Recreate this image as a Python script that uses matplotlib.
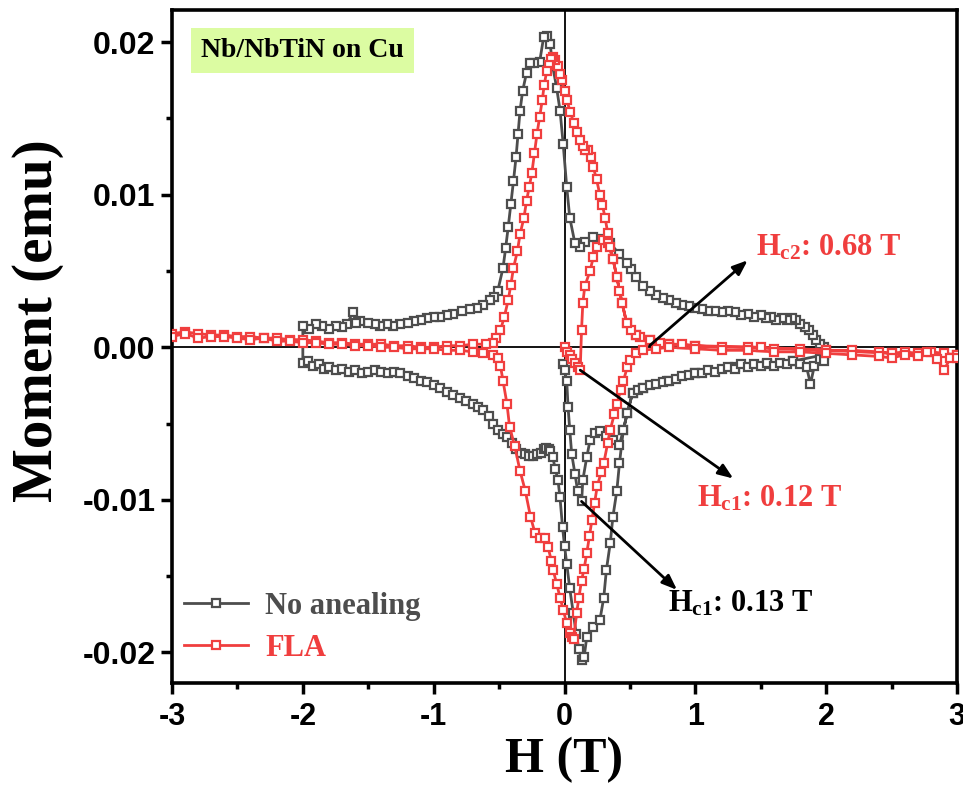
import numpy as np
import matplotlib
matplotlib.use("Agg")
import matplotlib.pyplot as plt
from matplotlib.ticker import MultipleLocator

# ---------------- data ----------------
# No anealing: virgin curve (0 -> +2 T)
na_virgin_H = [-0.01, 0.0, 0.017, 0.027, 0.04, 0.055, 0.08, 0.10, 0.13, 0.14, 0.17, 0.195,
               0.23, 0.27, 0.32, 0.37, 0.42, 0.45, 0.48, 0.52, 0.6, 0.78, 1.0, 1.3, 1.55, 1.75, 1.98]
na_virgin_M = [-0.0011, -0.0015, -0.0022, -0.0039, -0.0054, -0.0070, -0.0083, -0.0094, -0.0101,
               -0.0087, -0.0072, -0.0061, -0.0056, -0.0055, -0.0058, -0.0061, -0.0064, -0.0054,
               -0.0043, -0.0030, -0.0027, -0.0022, -0.0017, -0.0013, -0.0011, -0.0009, -0.0005]
# No anealing: decreasing branch (+2 -> -2 T)
na_down_H = [1.98, 1.95, 1.92, 1.90, 1.87, 1.84, 1.80, 1.77, 1.74, 1.70, 1.66, 1.62, 1.58, 1.54,
             1.50, 1.45, 1.40, 1.35, 1.30, 1.25, 1.20, 1.15, 1.10, 1.05, 1.00, 0.95, 0.90, 0.85,
             0.80, 0.75, 0.70, 0.65, 0.60, 0.55, 0.51, 0.475, 0.42, 0.35, 0.28, 0.22, 0.16, 0.12,
             0.08, 0.04, 0.017, -0.01, -0.034, -0.06, -0.09, -0.11, -0.136, -0.16, -0.19, -0.23,
             -0.26, -0.29, -0.32, -0.34, -0.355, -0.37, -0.39, -0.41, -0.43, -0.45, -0.47, -0.51,
             -0.54, -0.57, -0.62, -0.67, -0.72, -0.78, -0.85, -0.90, -0.95, -1.00, -1.05, -1.10,
             -1.15, -1.20, -1.26, -1.31, -1.36, -1.41, -1.45, -1.50, -1.56, -1.59, -1.62, -1.66,
             -1.70, -1.75, -1.80, -1.85, -1.90, -1.95, -2.0]
na_down_M = [0.0000, 0.0002, 0.0005, 0.0008, 0.0011, 0.0013, 0.0015, 0.0018, 0.0019, 0.0018,
             0.0019, 0.0018, 0.0020, 0.0019, 0.0021, 0.0020, 0.0022, 0.0021, 0.0023, 0.0024,
             0.0023, 0.0024, 0.0024, 0.0025, 0.0026, 0.0027, 0.0028, 0.0029, 0.0031, 0.0032,
             0.0034, 0.0037, 0.0040, 0.0046, 0.0051, 0.0055, 0.0061, 0.0068, 0.0071, 0.0072,
             0.0069, 0.0066, 0.0068, 0.0085, 0.0105, 0.0133, 0.0155, 0.0170, 0.0184, 0.0199,
             0.0204, 0.0203, 0.0187, 0.0186, 0.0186, 0.0180, 0.0168, 0.0155, 0.0140, 0.0125,
             0.0109, 0.0094, 0.0079, 0.0065, 0.0052, 0.0037, 0.0033, 0.0031, 0.0028, 0.0026,
             0.0025, 0.0024, 0.0022, 0.0021, 0.0020, 0.0020, 0.0019, 0.0018, 0.0017, 0.0016,
             0.0015, 0.0014, 0.0015, 0.0014, 0.0015, 0.0016, 0.0017, 0.0016, 0.0023, 0.0015,
             0.0013, 0.0014, 0.0012, 0.0014, 0.0015, 0.0012, 0.0014]
# No anealing: increasing branch (-2 -> +2 T)
na_up_H = [-2.0, -1.96, -1.92, -1.88, -1.84, -1.80, -1.75, -1.70, -1.65, -1.60, -1.55, -1.50,
           -1.45, -1.40, -1.35, -1.30, -1.26, -1.20, -1.15, -1.10, -1.05, -1.00, -0.95, -0.90,
           -0.85, -0.80, -0.75, -0.70, -0.66, -0.62, -0.58, -0.55, -0.51, -0.47, -0.44, -0.40,
           -0.37, -0.33, -0.30, -0.27, -0.24, -0.21, -0.18, -0.16, -0.14, -0.12, -0.11, -0.09,
           -0.07, -0.05, -0.035, -0.015, 0.0, 0.017, 0.04, 0.067, 0.09, 0.11, 0.13, 0.15, 0.17,
           0.22, 0.27, 0.30, 0.32, 0.35, 0.37, 0.40, 0.42, 0.45, 0.48, 0.52, 0.56, 0.6, 0.65,
           0.7, 0.75, 0.8, 0.85, 0.9, 0.95, 1.0, 1.05, 1.1, 1.15, 1.2, 1.25, 1.3, 1.35, 1.4,
           1.45, 1.5, 1.55, 1.6, 1.65, 1.7, 1.75, 1.8, 1.85, 1.88, 1.91, 1.95, 1.98]
na_up_M = [-0.0010, -0.0009, -0.0012, -0.0011, -0.0014, -0.0013, -0.0015, -0.0014, -0.0016,
           -0.0015, -0.0017, -0.0016, -0.0015, -0.0016, -0.0017, -0.0016, -0.0017, -0.0019,
           -0.0020, -0.0022, -0.0023, -0.0025, -0.0027, -0.0029, -0.0031, -0.0033, -0.0035,
           -0.0037, -0.0039, -0.0041, -0.0045, -0.0050, -0.0054, -0.0057, -0.0059, -0.0063,
           -0.0067, -0.0069, -0.0070, -0.0071, -0.0071, -0.0070, -0.0069, -0.0067, -0.0066,
           -0.0067, -0.0068, -0.0072, -0.0080, -0.0087, -0.0098, -0.0118, -0.0130, -0.0142,
           -0.0158, -0.0174, -0.0188, -0.0198, -0.0205, -0.0203, -0.0190, -0.0183, -0.0179,
           -0.0164, -0.0146, -0.0128, -0.0111, -0.0094, -0.0076, -0.0054, -0.0043, -0.0030,
           -0.0028, -0.0027, -0.0025, -0.0024, -0.0023, -0.0022, -0.0021, -0.0019, -0.0018,
           -0.0017, -0.0017, -0.0015, -0.0016, -0.0014, -0.0013, -0.0014, -0.0011, -0.0013,
           -0.0011, -0.0012, -0.0010, -0.0012, -0.0010, -0.0011, -0.0009, -0.0011, -0.0013,
           -0.0024, -0.0012, -0.0008, -0.0009]

# FLA: virgin curve (0 -> +3 T)
fla_virgin_H = [0.0, 0.02, 0.04, 0.06, 0.08, 0.10, 0.12, 0.13, 0.14, 0.155, 0.195, 0.22, 0.246,
                0.295, 0.33, 0.37, 0.40, 0.44, 0.475, 0.55, 0.65, 0.8, 1.0, 1.5, 2.0, 2.5, 3.0]
fla_virgin_M = [0.0000, -0.0003, -0.0005, -0.0008, -0.0010, -0.0013, -0.0015, 0.0011, 0.0029,
                0.0040, 0.0050, 0.0059, 0.0066, 0.0070, 0.0068, 0.0058, 0.0046, 0.0029, 0.0016,
                0.0008, 0.0005, 0.0002, 0.0001, 0.0000, -0.0002, -0.0004, -0.0005]
# FLA: decreasing branch (+3 -> -3 T)
fla_down_H = [3.0, 2.9, 2.8, 2.7, 2.6, 2.5, 2.4, 2.2, 2.0, 1.8, 1.6, 1.4, 1.2, 1.0, 0.9, 0.8,
              0.73, 0.65, 0.58, 0.55, 0.51, 0.475, 0.44, 0.42, 0.40, 0.37, 0.35, 0.33, 0.31,
              0.29, 0.27, 0.245, 0.22, 0.20, 0.18, 0.16, 0.14, 0.12, 0.093, 0.07, 0.045, 0.017,
              0.0, -0.02, -0.034, -0.05, -0.07, -0.087, -0.10, -0.12, -0.136, -0.155, -0.17,
              -0.19, -0.21, -0.23, -0.25, -0.27, -0.29, -0.31, -0.34, -0.36, -0.39, -0.41, -0.43,
              -0.46, -0.49, -0.52, -0.55, -0.6, -0.7, -0.8, -0.9, -1.0, -1.1, -1.2, -1.3, -1.4,
              -1.5, -1.6, -1.7, -1.8, -1.9, -2.0, -2.1, -2.2, -2.3, -2.4, -2.5, -2.6, -2.7, -2.8,
              -2.9, -3.0]
fla_down_M = [-0.0005, -0.0004, -0.0003, -0.0004, -0.0003, -0.0004, -0.0003, -0.0002, -0.0002,
              -0.0001, -0.0001, 0.0000, 0.0000, 0.0001, 0.0002, 0.0002, 0.0003, 0.0005, 0.0007,
              0.0008, 0.0011, 0.0016, 0.0029, 0.0037, 0.0046, 0.0058, 0.0066, 0.0075, 0.0085,
              0.0093, 0.0100, 0.0110, 0.0118, 0.0125, 0.0129, 0.0129, 0.0132, 0.0136, 0.0141,
              0.0147, 0.0154, 0.0162, 0.0168, 0.0175, 0.0179, 0.0184, 0.0188, 0.0190, 0.0189,
              0.0185, 0.0181, 0.0172, 0.0162, 0.0151, 0.0140, 0.0127, 0.0114, 0.0105, 0.0096,
              0.0085, 0.0074, 0.0063, 0.0052, 0.0041, 0.0031, 0.0020, 0.0011, 0.0006, 0.0003,
              0.0002, 0.0002, 0.0001, 0.0001, 0.0000, 0.0000, 0.0001, 0.0001, 0.0002, 0.0002,
              0.0002, 0.0003, 0.0003, 0.0004, 0.0005, 0.0005, 0.0006, 0.0006, 0.0007, 0.0007,
              0.0008, 0.0008, 0.0009, 0.0010, 0.0009]
# FLA: increasing branch (-3 -> +3 T)
fla_up_H = [-3.0, -2.9, -2.8, -2.7, -2.6, -2.5, -2.4, -2.3, -2.2, -2.1, -2.0, -1.9, -1.8, -1.7,
            -1.6, -1.5, -1.4, -1.3, -1.2, -1.1, -1.0, -0.9, -0.8, -0.7, -0.62, -0.55, -0.51,
            -0.49, -0.47, -0.44, -0.42, -0.38, -0.34, -0.30, -0.26, -0.225, -0.19, -0.15, -0.126,
            -0.10, -0.087, -0.06, -0.034, -0.01, 0.017, 0.04, 0.055, 0.07, 0.093, 0.11, 0.13,
            0.15, 0.17, 0.19, 0.21, 0.23, 0.25, 0.28, 0.30, 0.33, 0.35, 0.38, 0.40, 0.43, 0.45,
            0.48, 0.50, 0.55, 0.6, 0.7, 0.8, 1.0, 1.2, 1.4, 1.6, 1.8, 2.0, 2.2, 2.4, 2.5, 2.6,
            2.7, 2.77, 2.85, 2.9, 2.95, 3.0]
fla_up_M = [0.0007, 0.0009, 0.0006, 0.0007, 0.0007, 0.0006, 0.0005, 0.0006, 0.0004, 0.0004,
            0.0003, 0.0003, 0.0002, 0.0002, 0.0001, 0.0001, 0.0000, 0.0000, -0.0001, -0.0001,
            -0.0001, -0.0002, -0.0002, -0.0003, -0.0004, -0.0005, -0.0007, -0.0012, -0.0022,
            -0.0037, -0.0052, -0.0065, -0.0081, -0.0094, -0.0111, -0.0122, -0.0125, -0.0125,
            -0.0131, -0.0140, -0.0146, -0.0155, -0.0164, -0.0172, -0.0181, -0.0187, -0.0190,
            -0.0191, -0.0174, -0.0164, -0.0153, -0.0145, -0.0135, -0.0124, -0.0113, -0.0102,
            -0.0091, -0.0082, -0.0076, -0.0063, -0.0054, -0.0044, -0.0037, -0.0028, -0.0022,
            -0.0013, -0.00085, -0.0004, -0.0002, -0.0001, 0.0000, -0.0001, -0.0002, -0.0002,
            -0.0003, -0.0003, -0.0004, -0.0005, -0.0006, -0.0007, -0.0005, -0.0006, -0.0003,
            -0.0008, -0.0015, -0.0007, -0.0007]

series_labels = ["No anealing", "FLA"]
series_colors = ["#4d4d4d", "#f03e3e"]
x_ticks = [-3, -2, -1, 0, 1, 2, 3]
y_ticks = [-0.02, -0.01, 0.00, 0.01, 0.02]

# annotations: (text, colour, arrow start (H, M), arrow end (H, M), text position (H, M))
annotations = [
    (r"$\mathbf{H_{c2}}$: 0.68 T", "#f03e3e", (0.65, 0.0001), (1.40, 0.0057), (1.46, 0.0065)),
    (r"$\mathbf{H_{c1}}$: 0.12 T", "#f03e3e", (0.12, -0.0015), (1.29, -0.0086), (1.01, -0.0099)),
    (r"$\mathbf{H_{c1}}$: 0.13 T", "#000000", (0.13, -0.0101), (0.86, -0.0159), (0.79, -0.0168)),
]

# ---------------- figure ----------------
plt.rcParams['mathtext.fontset'] = 'custom'
plt.rcParams['mathtext.rm'] = 'Liberation Serif:bold'
plt.rcParams['mathtext.bf'] = 'Liberation Serif:bold'
plt.rcParams['mathtext.it'] = 'Liberation Serif:bold'

fig = plt.figure(figsize=(9.63, 7.96), dpi=100)
ax = fig.add_axes([0.1786, 0.142, 0.8152, 0.8454])

ax.axhline(0, color="black", lw=1.3, zorder=1)
ax.axvline(0, color="black", lw=1.3, zorder=1)

na_H = na_virgin_H + na_down_H + na_up_H
na_M = na_virgin_M + na_down_M + na_up_M
fla_H = fla_virgin_H + fla_down_H + fla_up_H
fla_M = fla_virgin_M + fla_down_M + fla_up_M

for H, M, lab, col in [(na_H, na_M, series_labels[0], series_colors[0]),
                       (fla_H, fla_M, series_labels[1], series_colors[1])]:
    ax.plot(H, M, color=col, lw=2.0, marker="s", markersize=5.5, markerfacecolor="white",
            markeredgecolor=col, markeredgewidth=1.6, label=lab, zorder=3)

ax.set_xlim(-3, 3)
ax.set_ylim(-0.0220, 0.0221)
ax.set_xticks(x_ticks)
ax.set_xticklabels([str(t) for t in x_ticks])
ax.set_yticks(y_ticks)
ax.set_yticklabels([f"{t:.2f}" for t in y_ticks])
ax.xaxis.set_minor_locator(MultipleLocator(0.5))
ax.yaxis.set_minor_locator(MultipleLocator(0.005))
ax.tick_params(which="major", direction="out", length=8, width=2.5, top=False, right=False)
ax.tick_params(which="minor", direction="out", length=4, width=2.5, top=False, right=False)
for lbl in ax.get_xticklabels():
    lbl.set_fontfamily("Liberation Sans")
    lbl.set_fontweight("bold")
    lbl.set_fontsize(22)
for lbl in ax.get_yticklabels():
    lbl.set_fontfamily("Liberation Sans")
    lbl.set_fontweight("bold")
    lbl.set_fontsize(23)
ax.tick_params(axis="x", pad=6)
ax.tick_params(axis="y", pad=4)
for sp in ax.spines.values():
    sp.set_linewidth(2.6)

ax.set_xlabel("H (T)", fontfamily="Liberation Serif", fontweight="bold", fontsize=36)
ax.set_ylabel("Moment (emu)", fontfamily="Liberation Serif", fontweight="bold", fontsize=41)
ax.xaxis.set_label_coords(0.5, -0.080)
ax.yaxis.set_label_coords(-0.137, 0.538)

ax.text(0.037, 0.94, "Nb/NbTiN on Cu", transform=ax.transAxes, fontfamily="Liberation Serif",
        fontweight="bold", fontsize=20, va="center", ha="left",
        bbox=dict(boxstyle="square,pad=0.35", facecolor="#dcfca2", edgecolor="none"))

for text, col, start, end, tpos in annotations:
    ax.annotate("", xy=end, xytext=start,
                arrowprops=dict(arrowstyle="-|>,head_length=0.9,head_width=0.35", color="black",
                                lw=2, shrinkA=0, shrinkB=0), zorder=5)
    ax.text(tpos[0], tpos[1], text, color=col, fontfamily="Liberation Serif", fontweight="bold",
            fontsize=22, va="center", ha="left", zorder=5)

leg = ax.legend(loc="center left", bbox_to_anchor=(0.0, 0.083), frameon=False,
                prop={"family": "Liberation Serif", "weight": "bold", "size": 22},
                handlelength=2.1, handletextpad=0.55, labelspacing=0.42, borderaxespad=0.0)
for t, c in zip(leg.get_texts(), series_colors):
    t.set_color(c)

fig.savefig("out.png", dpi=100)
